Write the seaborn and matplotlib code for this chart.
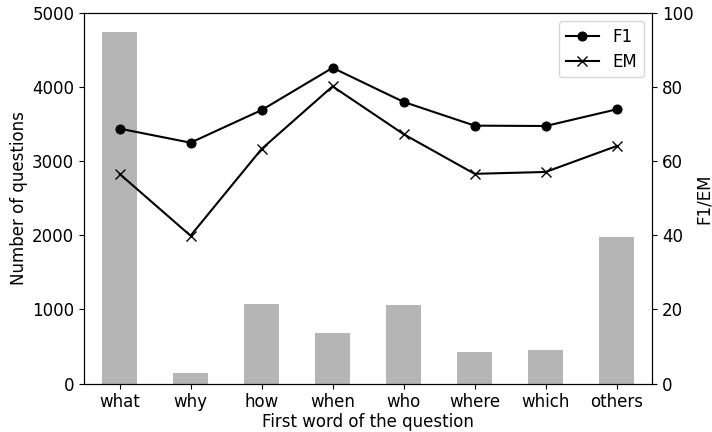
import numpy as np
import pandas as pd
import matplotlib
matplotlib.use("Agg")
import matplotlib.pyplot as plt
import seaborn as sns

categories = ["what", "why", "how", "when", "who", "where", "which", "others"]
counts = [4740, 144, 1080, 684, 1058, 428, 455, 1976]
f1 = [68.8, 65.0, 73.8, 85.2, 76.0, 69.6, 69.5, 74.0]
em = [56.6, 39.9, 63.3, 80.2, 67.3, 56.6, 57.1, 64.1]

plt.rcParams["font.family"] = ["DejaVu Sans"]
plt.rcParams["font.size"] = 12

pos = np.arange(len(categories))
bars = pd.DataFrame({"pos": pos, "count": counts})
lines = pd.DataFrame({"pos": np.concatenate([pos, pos]),
                      "score": f1 + em,
                      "metric": ["F1"] * len(pos) + ["EM"] * len(pos)})

fig, ax = plt.subplots(figsize=(7.12, 4.32), dpi=100)
fig.subplots_adjust(left=0.118, right=0.916, top=0.970, bottom=0.112)

sns.barplot(data=bars, x="pos", y="count", color="#b5b5b5", saturation=1,
            width=0.5, native_scale=True, ax=ax)
ax.set_xlim(-0.5, len(categories) - 0.5)
ax.set_ylim(0, 5000)
ax.set_xticks(pos)
ax.set_xticklabels(categories)
ax.set_xlabel("First word of the question", labelpad=1)
ax.set_ylabel("Number of questions", labelpad=3)

ax2 = ax.twinx()
sns.lineplot(data=lines[lines.metric == "F1"], x="pos", y="score", color="black",
             marker="o", markersize=6.5, markeredgecolor="black", linewidth=1.5,
             label="F1", ax=ax2)
sns.lineplot(data=lines[lines.metric == "EM"], x="pos", y="score", color="black",
             marker="x", markersize=7, markeredgecolor="black", markeredgewidth=1.0,
             linewidth=1.5, label="EM", ax=ax2)
ax2.set_ylim(0, 100)
ax2.set_xlim(-0.5, len(categories) - 0.5)
ax2.set_ylabel("F1/EM", labelpad=1)
ax2.legend(loc="upper right", fontsize=12, labelspacing=0.4)

fig.savefig("out.png", dpi=100)
